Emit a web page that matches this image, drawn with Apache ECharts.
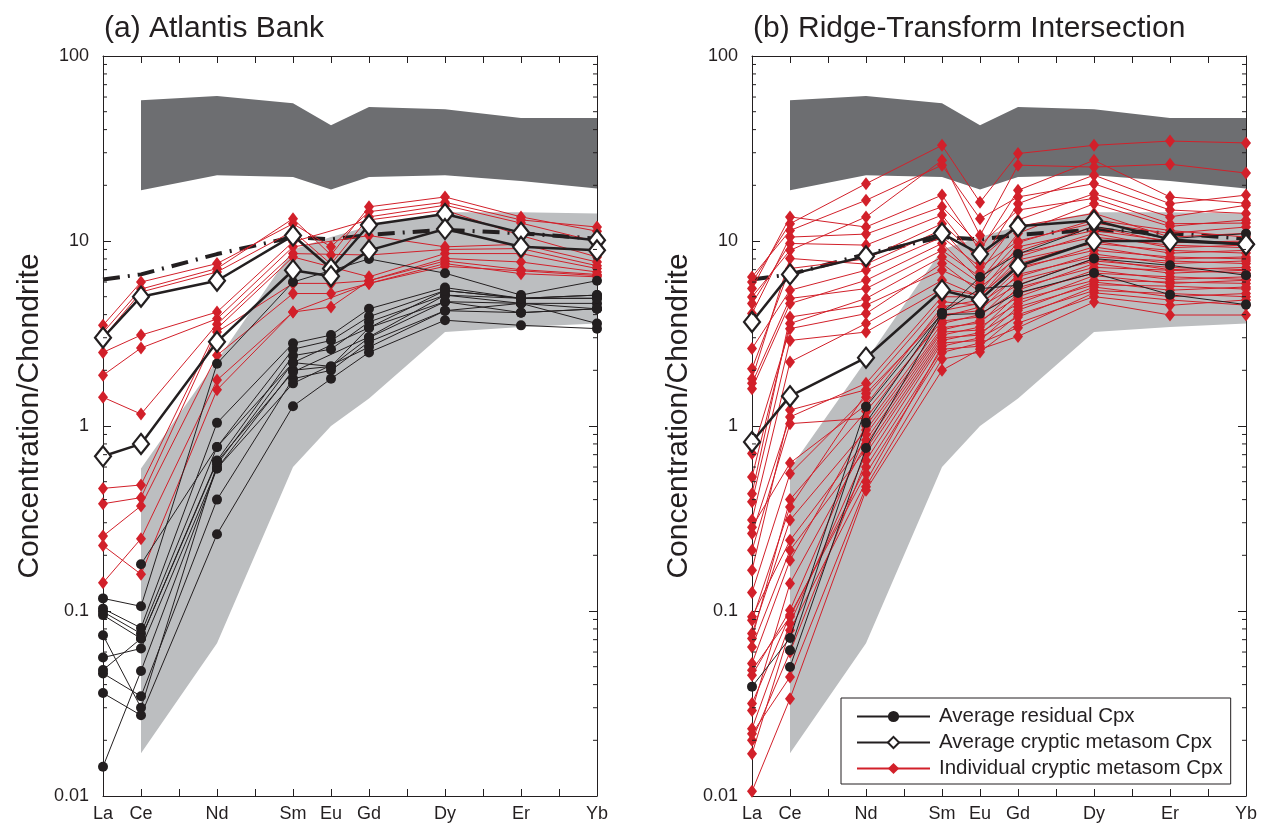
<!DOCTYPE html>
<html><head><meta charset="utf-8">
<script src="https://cdn.jsdelivr.net/npm/echarts@6/dist/echarts.min.js"></script>
<style>html,body{margin:0;padding:0;background:#fff}#c{width:1262px;height:827px}</style>
</head><body><div id="c"></div><script>
// ---------- axes / categories ----------
const ELEMENTS = ['La','Ce','Pr','Nd','Pm','Sm','Eu','Gd','Tb','Dy','Ho','Er','Tm','Yb'];
const AXIS_LABELS = ['La','Ce','','Nd','','Sm','Eu','Gd','','Dy','','Er','','Yb'];
const MEASURED = ['La','Ce','Nd','Sm','Eu','Gd','Dy','Er','Yb'];
const BAND_ELEMENTS = ['Ce','Nd','Sm','Eu','Gd','Dy','Er','Yb'];
const Y_TICKS = [0.01, 0.1, 1, 10, 100];
const MINOR_MULTIPLIERS = [2,3,4,5,6,7,8,9];

// ---------- reference fields ----------
const DARK_BAND_UPPER = [57.7, 60.8, 55.5, 42.2, 53.0, 51.5, 46.2, 46.2];
const DARK_BAND_LOWER = [18.8, 22.7, 22.2, 19.0, 22.2, 22.7, 21.1, 19.2];
const LIGHT_BAND_UPPER = [0.59, 2.26, 9.0, 10.5, 12.0, 14.3, 14.3, 14.1];
const LIGHT_BAND_LOWER = [0.017, 0.067, 0.6, 1.0, 1.41, 3.22, 3.43, 3.58];
const DASHDOT = [6.2, 6.6, 8.5, 10.5, 10.2, 10.8, 11.5, 11.0, 10.3];

// ---------- (a) Atlantis Bank ----------  [La, Ce, Nd, Sm, Eu, Gd, Dy, Er, Yb]
const A_RESIDUAL = [
  [0.117, 0.106, 2.17, 6.0, null, 8.0, 6.7, 5.1, 6.1],
  [0.103, 0.081, 1.04, 2.8, 3.1, 4.3, 5.6, 4.9, 5.1],
  [0.099, 0.0755, 0.77, 2.6, 2.9, 3.9, 5.4, 4.9, 4.9],
  [0.095, 0.071, 0.65, 2.4, 2.6, 3.65, 5.1, 4.6, 4.6],
  [0.074, 0.030, 0.62, 2.2, null, 3.4, 4.7, 4.6, 4.3],
  [0.056, 0.0627, 0.59, 2.0, 2.1, 3.0, 4.7, 4.1, 4.3],
  [0.046, 0.0346, 0.40, 1.8, 2.0, 2.85, 4.2, 4.1, 4.3],
  [0.036, 0.0273, 0.26, 1.28, 1.8, 2.5, 3.73, 3.5, 3.36],
  [0.0144, 0.0474, 0.59, 1.7, null, 2.67, 4.2, 4.6, 3.58],
  [0.048, 0.071, 0.64, 1.96, null, 3.03, 5.1, 4.9, 5.1],
  [null, 0.179, 0.77, 2.2, 2.1, 3.4, 5.4, 4.9, 4.9]
];
const A_METASOM_AVG = [
  [3.0, 5.0, 6.1, 10.7, 7.1, 12.2, 14.0, 11.1, 10.1],
  [0.686, 0.80, 2.85, 6.95, 6.45, 8.9, 11.6, 9.3, 8.9]
];
const A_METASOM = [
  [3.5, 6.0, 7.55, 12.4, 9.3, 14.4, 16.2, 13.0, 11.9],
  [3.2, 5.5, 7.1, 13.2, 8.4, 15.3, 17.3, 13.5, 11.3],
  [3.0, 5.3, 6.8, 11.3, 7.5, 13.5, 15.6, 12.5, 9.9],
  [2.5, 3.1, 4.13, 9.9, null, 13.0, 14.7, 10.7, 8.2],
  [1.88, 2.64, 3.8, 9.3, null, 10.7, 9.3, 9.6, 7.7],
  [1.43, 1.16, 3.55, 8.55, null, 8.4, 9.0, 9.1, 7.35],
  [0.46, 0.48, 3.36, 8.2, null, 6.4, 8.55, 8.55, 7.1],
  [0.38, 0.41, 3.22, 5.9, 5.9, 6.1, 8.05, 7.7, 6.8],
  [0.254, 0.37, 2.41, 5.2, 5.2, 5.9, 7.55, 6.66, 6.4],
  [0.226, 0.158, 1.57, 4.13, 4.4, 6.1, 7.8, 7.0, 6.6],
  [0.142, 0.246, 1.77, 4.13, null, 5.9, 7.3, 6.9, 6.5]
];

// ---------- (b) Ridge-Transform Intersection ----------
const B_RESIDUAL = [
  [0.039, 0.0714, 1.27, 4.08, 6.39, 8.5, 12.0, 10.3, 10.96],
  [null, 0.0613, 1.04, 4.08, 5.53, 5.76, 8.04, 7.39, 6.53],
  [null, 0.0498, 0.76, 4.0, 4.05, 5.24, 6.71, 5.13, 4.53]
];
const B_METASOM_AVG = [
  [3.65, 6.6, 8.27, 11.0, 8.5, 12.0, 12.9, 10.2, 9.6],
  [0.82, 1.45, 2.34, 5.42, 4.82, 7.3, 10.0, 10.0, 9.6]
];
const B_METASOM = [
  [6.39, 11.4, 16.6, 25.7, 13.2, 17.3, 20.4, 14.7, 14.1],
  [6.0, 12.4, 20.4, 32.9, 16.2, 29.7, 32.9, 34.7, 33.9],
  [5.53, 13.5, 11.9, 17.7, 8.9, 18.8, 27.3, 17.3, 16.0],
  [4.98, 8.9, 13.5, 27.3, 10.7, 25.7, 25.1, 26.0, 23.3],
  [4.59, 9.7, 9.5, 13.8, 7.6, 15.9, 22.7, 15.9, 17.7],
  [4.05, 10.5, 10.9, 15.3, 9.5, 14.7, 17.0, 12.4, 12.5],
  [2.62, 5.42, 6.95, 10.5, 7.23, 10.0, 12.5, 11.0, 11.9],
  [2.04, 7.1, 8.0, 12.4, 8.0, 12.0, 14.1, 10.5, 11.0],
  [1.80, 8.05, 7.5, 11.5, 6.8, 13.0, 18.0, 13.5, 15.6],
  [1.70, 4.89, 5.53, 8.9, 6.4, 8.8, 12.0, 9.8, 10.0],
  [1.59, 4.59, 6.13, 9.7, 6.1, 11.0, 15.9, 12.0, 13.0],
  [0.71, 3.36, 4.05, 7.55, 5.3, 9.3, 11.4, 10.0, 9.8],
  [0.53, 3.58, 4.89, 8.2, 5.9, 9.8, 13.0, 11.4, 10.5],
  [0.43, 3.88, 4.5, 6.95, 5.6, 8.2, 11.0, 9.2, 9.5],
  [0.39, 2.9, 3.22, 5.5, 5.1, 7.5, 10.0, 8.6, 8.9],
  [0.31, 2.22, 3.58, 6.13, 5.0, 8.55, 10.5, 9.5, 9.2],
  [0.284, 0.63, 1.3, 4.4, 4.8, 7.2, 8.9, 8.2, 8.0],
  [0.262, 1.12, 1.70, 5.0, 4.98, 7.9, 9.7, 8.9, 8.6],
  [0.213, 1.03, 1.1, 3.88, 4.4, 5.8, 8.0, 7.0, 7.2],
  [0.166, 1.22, 1.57, 4.7, 4.5, 7.0, 9.3, 8.0, 8.2],
  [0.126, 0.553, 1.43, 4.2, 4.6, 6.4, 8.5, 7.55, 7.8],
  [0.093, 0.241, 0.84, 3.22, 3.3, 5.2, 6.7, 6.4, 6.2],
  [0.089, 0.365, 1.5, 4.0, 4.2, 6.6, 8.2, 7.8, 7.55],
  [0.0755, 0.31, 0.95, 3.4, 3.6, 5.6, 7.2, 6.95, 6.7],
  [0.071, 0.40, 1.2, 3.7, 3.88, 6.13, 7.8, 7.2, 7.0],
  [0.0639, 0.213, 0.75, 3.0, 3.1, 4.8, 6.13, 6.0, 5.9],
  [0.052, 0.188, 1.0, 3.58, 4.0, 5.42, 7.55, 6.7, 6.95],
  [0.0478, 0.093, 0.6, 2.6, 2.7, 4.0, 5.4, 5.2, 5.0],
  [0.0449, 0.101, 0.9, 3.3, 3.7, 4.98, 6.95, 6.2, 6.4],
  [0.0316, 0.095, 0.553, 2.5, 2.81, 3.4, 5.25, 4.8, 4.5],
  [0.029, 0.141, 0.8, 3.1, 3.43, 4.59, 6.5, 5.9, 6.13],
  [0.0231, 0.0855, 0.71, 2.9, 3.2, 4.22, 6.0, 5.42, 5.64],
  [0.0217, 0.044, 0.47, 2.3, 2.51, 3.6, 5.0, 4.49, 4.8],
  [0.02, 0.06, 0.65, 2.81, 2.9, 4.4, 5.8, 5.7, 5.5],
  [0.0169, 0.0787, 0.5, 2.7, 3.0, 3.88, 5.64, 5.0, 5.2],
  [0.0106, 0.0336, 0.45, 2.0, 2.6, 3.05, 4.68, 3.98, 3.98]
];

// ---------- styling ----------
const FONT = "'Liberation Sans', Arial, Helvetica, sans-serif";
const INK = '#231f20';
const RED = '#d2202a';
const DARK_GREY = '#6d6e71';
const LIGHT_GREY = '#bcbec0';
const NAME_RES = 'Average residual Cpx';
const NAME_AVG = 'Average cryptic metasom Cpx';
const NAME_IND = 'Individual cryptic metasom Cpx';
const GRID_LEFTS = [103, 752];

const X = MEASURED.map(e => ELEMENTS.indexOf(e));
const XB = BAND_ELEMENTS.map(e => ELEMENTS.indexOf(e));
const MINOR_TICKS = [];
for (let k = -2; k <= 1; k++) MINOR_MULTIPLIERS.forEach(m => MINOR_TICKS.push(m * Math.pow(10, k)));

function pts(row) {
  const out = [];
  row.forEach((v, i) => { if (v != null) out.push([X[i], v]); });
  return out;
}

function bandSeries(p, upper, lower, color, z) {
  return {
    type: 'custom', xAxisIndex: 2 * p, yAxisIndex: 2 * p, z, silent: true, clip: false,
    data: [[XB[0], upper[0]]],
    renderItem: (params, api) => {
      const points = [];
      XB.forEach((x, i) => points.push(api.coord([x, upper[i]])));
      for (let i = XB.length - 1; i >= 0; i--) points.push(api.coord([XB[i], lower[i]]));
      return { type: 'polygon', shape: { points }, style: { fill: color } };
    }
  };
}

function minorTickSeries(p) {
  return {
    type: 'custom', xAxisIndex: 2 * p, yAxisIndex: 2 * p, z: 20, silent: true, clip: false,
    data: MINOR_TICKS.map(v => [0, v]),
    renderItem: (params, api) => {
      const v = api.value(1);
      const a = api.coord([0, v]), b = api.coord([13, v]);
      return { type: 'group', children: [
        { type: 'line', shape: { x1: a[0], y1: a[1], x2: a[0] + 4, y2: a[1] }, style: { stroke: INK, lineWidth: 1 } },
        { type: 'line', shape: { x1: b[0] - 4, y1: b[1], x2: b[0], y2: b[1] }, style: { stroke: INK, lineWidth: 1 } }
      ] };
    }
  };
}

function panelSeries(p, residual, avg, ind) {
  const s = [];
  s.push(bandSeries(p, DARK_BAND_UPPER, DARK_BAND_LOWER, DARK_GREY, 1));
  s.push(bandSeries(p, LIGHT_BAND_UPPER, LIGHT_BAND_LOWER, LIGHT_GREY, 1));
  s.push({
    type: 'line', xAxisIndex: 2 * p, yAxisIndex: 2 * p, z: 2, silent: true, symbol: 'none',
    data: pts(DASHDOT), lineStyle: { color: INK, width: 4, type: [17, 8, 2, 8] }
  });
  ind.forEach(row => s.push({
    type: 'line', name: NAME_IND, xAxisIndex: 2 * p, yAxisIndex: 2 * p, z: 3, silent: true, clip: false,
    data: pts(row), symbol: 'diamond', symbolSize: [10, 13],
    lineStyle: { color: RED, width: 1 }, itemStyle: { color: RED }
  }));
  residual.forEach(row => s.push({
    type: 'line', name: NAME_RES, xAxisIndex: 2 * p, yAxisIndex: 2 * p, z: 4, silent: true, clip: false,
    data: pts(row), symbol: 'circle', symbolSize: 10,
    lineStyle: { color: INK, width: 1 }, itemStyle: { color: INK }
  }));
  avg.forEach(row => s.push({
    type: 'line', name: NAME_AVG, xAxisIndex: 2 * p, yAxisIndex: 2 * p, z: 5, silent: true, clip: false,
    data: pts(row), symbol: 'diamond', symbolSize: [16, 20],
    lineStyle: { color: INK, width: 2.5 }, itemStyle: { color: '#ffffff', borderColor: INK, borderWidth: 2.2 }
  }));
  s.push(minorTickSeries(p));
  return s;
}

const grids = GRID_LEFTS.map(l => ({ left: l, top: 56, width: 494, height: 740, containLabel: false }));
const xAxes = [], yAxes = [];
[0, 1].forEach(p => {
  const common = { type: 'value', gridIndex: p, min: 0, max: 13, interval: 1, splitLine: { show: false },
    axisLine: { show: true, onZero: false, lineStyle: { color: INK, width: 1 } },
    axisTick: { show: true, inside: true, length: 7, lineStyle: { color: INK, width: 1 } } };
  xAxes.push(Object.assign({}, common, { position: 'bottom',
    axisLabel: { show: true, showMinLabel: true, showMaxLabel: true, margin: 9, fontSize: 18, color: INK, fontFamily: FONT,
      formatter: v => AXIS_LABELS[Math.round(v)] || '' } }));
  xAxes.push(Object.assign({}, common, { position: 'top', axisLabel: { show: false } }));
  const ycommon = { type: 'log', logBase: 10, gridIndex: p, min: 0.01, max: 100, splitLine: { show: false },
    axisLine: { show: true, onZero: false, lineStyle: { color: INK, width: 1 } },
    axisTick: { show: true, inside: true, length: 8, lineStyle: { color: INK, width: 1 } } };
  yAxes.push(Object.assign({}, ycommon, { position: 'left',
    axisLabel: { show: true, margin: 14, fontSize: 18, color: INK, fontFamily: FONT,
      formatter: v => { const t = Y_TICKS.find(t => Math.abs(Math.log10(t) - Math.log10(v)) < 1e-6); return t === undefined ? '' : String(t); } },
    name: 'Concentration/Chondrite', nameLocation: 'middle', nameGap: 58,
    nameTextStyle: { fontSize: 30, color: INK, fontFamily: FONT, padding: [0, 0, 0, 20] } }));
  yAxes.push(Object.assign({}, ycommon, { position: 'right', axisLabel: { show: false } }));
});

const option = {
  animation: false,
  backgroundColor: '#ffffff',
  title: [
    { text: '(a) Atlantis Bank', left: 99, top: 9, textStyle: { fontSize: 30, fontWeight: 'normal', color: INK, fontFamily: FONT } },
    { text: '(b) Ridge-Transform Intersection', left: 748, top: 9, textStyle: { fontSize: 30, fontWeight: 'normal', color: INK, fontFamily: FONT } }
  ],
  legend: {
    left: 841, top: 698, orient: 'vertical', selectedMode: false,
    data: [NAME_RES, NAME_AVG, NAME_IND],
    itemWidth: 73, itemHeight: 14, itemGap: 5,
    padding: [8, 8, 5, 15],
    borderColor: INK, borderWidth: 1, backgroundColor: '#ffffff',
    textStyle: { fontSize: 20.5, color: INK, fontFamily: FONT, padding: [0, 0, 0, 4] }
  },
  grid: grids,
  xAxis: xAxes,
  yAxis: yAxes,
  series: panelSeries(0, A_RESIDUAL, A_METASOM_AVG, A_METASOM).concat(panelSeries(1, B_RESIDUAL, B_METASOM_AVG, B_METASOM))
};

const chart = echarts.init(document.getElementById('c'), null, { renderer: 'canvas' });
chart.setOption(option);
</script></body></html>
